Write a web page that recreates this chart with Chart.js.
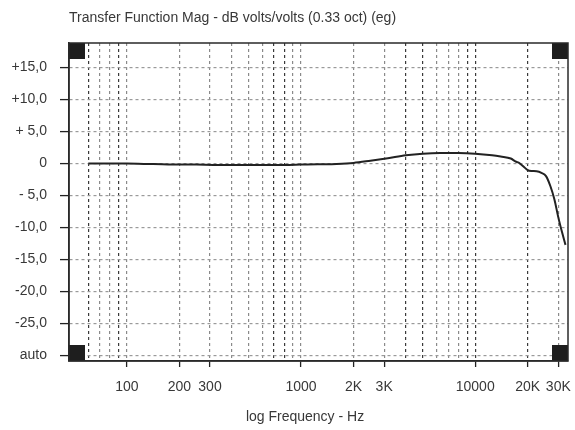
<!DOCTYPE html>
<html><head><meta charset="utf-8">
<script src="https://cdn.jsdelivr.net/npm/chart.js@4.4.1/dist/chart.umd.min.js"></script>
<style>html,body{margin:0;padding:0;background:#fff}#wrap{position:relative;width:575px;height:430px}</style>
</head><body><div id="wrap"><canvas id="c" width="575" height="430"></canvas></div>
<script>
// ---- data ----
const frequencies = [60, 80, 100, 125, 160, 200, 250, 315, 400, 500, 630, 800, 1000, 1250, 1600, 2000, 2500, 3150, 4000, 5000, 6300, 8000, 10000, 12500, 14000, 16000, 17000, 18000, 19000, 20000, 21000, 22500, 24000, 25500, 27000, 28500, 30000, 31500, 33000];
const magnitudeDb = [0, 0, 0, -0.05, -0.1, -0.15, -0.15, -0.2, -0.2, -0.2, -0.2, -0.2, -0.15, -0.1, -0.05, 0.1, 0.45, 0.85, 1.3, 1.55, 1.65, 1.65, 1.55, 1.3, 1.1, 0.8, 0.35, 0.05, -0.5, -1.0, -1.15, -1.2, -1.45, -1.95, -3.5, -5.6, -8.4, -10.7, -12.7];
const xGridValues = [60, 70, 80, 90, 100, 200, 300, 400, 500, 600, 700, 800, 900, 1000, 2000, 3000, 4000, 5000, 6000, 7000, 8000, 9000, 10000, 20000, 30000];
const xLabelValues = [100, 200, 300, 1000, 2000, 3000, 10000, 20000, 30000];
const xLabelTexts = ['100', '200', '300', '1000', '2K', '3K', '10000', '20K', '30K'];
const yTickValues = [15, 10, 5, 0, -5, -10, -15, -20, -25, -30];
const yTickLabels = ['+15,0', '+10,0', '+ 5,0', '0', '- 5,0', '-10,0', '-15,0', '-20,0', '-25,0', 'auto'];
const titleText = 'Transfer Function Mag - dB volts/volts (0.33 oct) (eg)';
const xAxisTitle = 'log Frequency - Hz';

// ---- styles ----
const darkVerticals = [60, 90, 700, 800, 4000, 5000, 9000, 10000, 20000];
const FONT = '"Liberation Sans", Arial, Helvetica, sans-serif';
const TEXT = '#383838';

const framePlugin = {
  id: 'frame',
  beforeDatasetsDraw(chart) {
    const {ctx, chartArea: a} = chart;
    const s = 16;
    ctx.save();
    ctx.fillStyle = '#1e1e1e';
    ctx.fillRect(a.left, a.top, s, s);
    ctx.fillRect(a.right - s, a.top, s, s);
    ctx.fillRect(a.left, a.bottom - s, s, s);
    ctx.fillRect(a.right - s, a.bottom - s, s, s);
    ctx.restore();
  },
  afterDatasetsDraw(chart) {
    const {ctx, chartArea: a} = chart;
    ctx.save();
    ctx.strokeStyle = '#2a2a2a';
    ctx.lineWidth = 1.5;
    ctx.strokeRect(a.left, a.top, a.right - a.left, a.bottom - a.top);
    ctx.restore();
  },
  afterDraw(chart) {
    const {ctx, chartArea: a} = chart;
    ctx.save();
    ctx.fillStyle = TEXT;
    ctx.font = '14px ' + FONT;
    ctx.textAlign = 'center';
    ctx.textBaseline = 'middle';
    ctx.fillText(xAxisTitle, a.left + 0.473 * (a.right - a.left), 417);
    ctx.restore();
  }
};

new Chart(document.getElementById('c'), {
  type: 'line',
  data: {
    datasets: [{
      data: frequencies.map((f, i) => ({x: f, y: magnitudeDb[i]})),
      borderColor: '#222',
      borderWidth: 2,
      pointRadius: 0,
      fill: false,
      cubicInterpolationMode: 'monotone'
    }]
  },
  options: {
    responsive: false,
    animation: false,
    devicePixelRatio: 1,
    layout: {padding: {left: 0, right: 7, top: 0, bottom: 0}},
    plugins: {
      legend: {display: false},
      tooltip: {enabled: false},
      title: {
        display: true,
        text: titleText,
        align: 'start',
        fullSize: false,
        color: TEXT,
        font: {size: 14, family: FONT, weight: 'normal'},
        padding: {top: 9.6, bottom: 16.6}
      }
    },
    scales: {
      x: {
        type: 'logarithmic',
        min: 46.5,
        max: 34100,
        afterBuildTicks: s => { s.ticks = xGridValues.map(v => ({value: v})); },
        afterFit: s => { s.height = 69; s.paddingLeft = 0; s.paddingRight = 0; },
        ticks: {
          autoSkip: false,
          maxRotation: 0,
          padding: 12,
          color: TEXT,
          font: {size: 14, family: FONT},
          callback: v => { const i = xLabelValues.indexOf(v); return i >= 0 ? xLabelTexts[i] : ''; }
        },
        grid: {
          color: c => (c.tick && darkVerticals.includes(c.tick.value)) ? '#3a3a3a' : '#8a8a8a',
          lineWidth: 1.2,
          tickLength: 6,
          tickWidth: 1.3,
          tickBorderDash: [],
          tickColor: c => (c.tick && xLabelValues.includes(c.tick.value)) ? '#222' : 'rgba(0,0,0,0)'
        },
        border: {display: true, color: '#2a2a2a', width: 1.5, dash: [3, 3]}
      },
      y: {
        type: 'linear',
        min: -30.85,
        max: 18.85,
        afterBuildTicks: s => { s.ticks = yTickValues.map(v => ({value: v})); },
        afterFit: s => { s.width = 69; },
        ticks: {
          padding: 13,
          color: TEXT,
          font: {size: 14, family: FONT},
          callback: v => { const i = yTickValues.indexOf(v); return i >= 0 ? yTickLabels[i] : ''; }
        },
        grid: {
          color: '#9a9a9a',
          lineWidth: 1.2,
          tickLength: 9,
          tickWidth: 1.3,
          tickBorderDash: [],
          tickColor: '#222'
        },
        border: {display: true, color: '#2a2a2a', width: 1.5, dash: [3, 3]}
      }
    }
  },
  plugins: [framePlugin]
});
</script>
</body></html>
